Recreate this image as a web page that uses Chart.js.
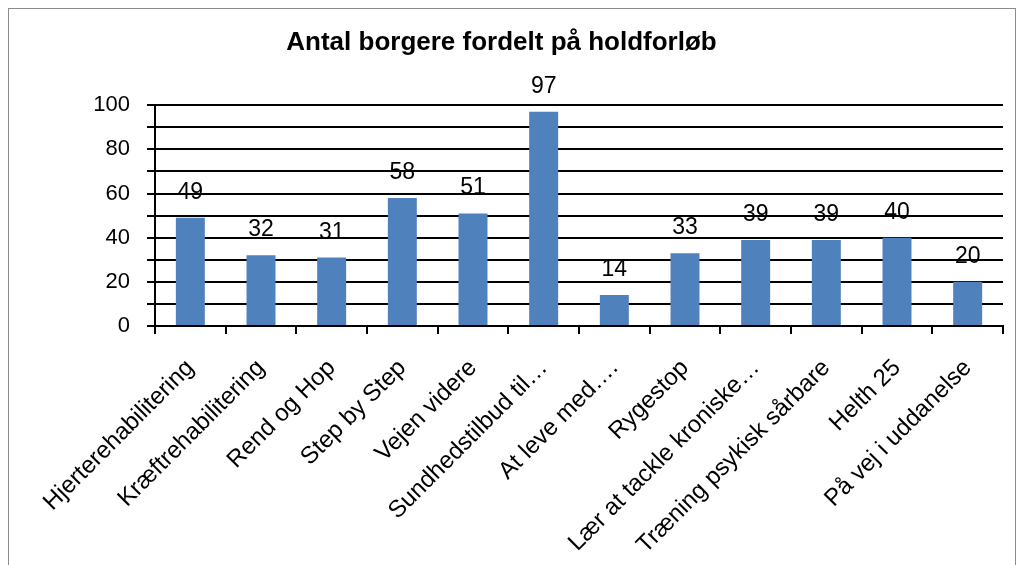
<!DOCTYPE html>
<html lang="da">
<head>
  <meta charset="UTF-8">
  <title>Antal borgere fordelt på holdforløb</title>
  <script src="https://cdn.jsdelivr.net/npm/chart.js"></script>
  <style>
    body { margin: 0; background: #fff; }
    #frame { position: absolute; left: 8px; top: 8px; width: 1006px; height: 600px; border: 1px solid #8c8c8c; }
    canvas { position: absolute; left: 0; top: 0; }
  </style>
</head>
<body>
  <div id="frame"></div>
  <canvas id="chart" width="1023" height="565"></canvas>

  <script>
    const categories = [
      'Hjerterehabilitering', 'Kræftrehabilitering', 'Rend og Hop', 'Step by Step',
      'Vejen videre', 'Sundhedstilbud til…', 'At leve med….', 'Rygestop',
      'Lær at tackle kroniske…', 'Træning psykisk sårbare', 'Helth 25', 'På vej i uddanelse'
    ];
    const borgere = [49, 32, 31, 58, 51, 97, 14, 33, 39, 39, 40, 20];

    const font = 'Liberation Sans, Arial, sans-serif';

    // values above the bars, like the excel data labels
    const valueLabels = {
      id: 'valueLabels',
      afterDatasetsDraw(chart) {
        const ctx = chart.ctx;
        const meta = chart.getDatasetMeta(0);
        ctx.save();
        ctx.font = '23px ' + font;
        ctx.fillStyle = '#000';
        ctx.textAlign = 'center';
        ctx.textBaseline = 'alphabetic';
        meta.data.forEach((bar, i) => {
          ctx.fillText(borgere[i], bar.x, bar.y - 19);
        });
        ctx.restore();
      }
    };

    new Chart(document.getElementById('chart'), {
      type: 'bar',
      data: {
        labels: categories,
        datasets: [{
          data: borgere,
          backgroundColor: '#4F81BD',
          barPercentage: 0.41,
          categoryPercentage: 1
        }]
      },
      options: {
        responsive: false,
        animation: false,
        layout: { padding: { top: 0, right: 20, bottom: 0, left: 0 } },
        plugins: {
          legend: { display: false },
          tooltip: { enabled: false },
          title: {
            display: true,
            text: 'Antal borgere fordelt på holdforløb',
            color: '#000',
            font: { family: font, size: 26, weight: 'bold' },
            padding: { top: 27, bottom: 47 }
          }
        },
        scales: {
          x: {
            grid: { offset: true, drawOnChartArea: false, color: '#000', lineWidth: 2, tickLength: 8 },
            border: { color: '#000', width: 2 },
            ticks: {
              color: '#000',
              font: { family: font, size: 24 },
              minRotation: 45,
              maxRotation: 45,
              padding: 20,
              autoSkip: false
            },
            afterFit(scale) { scale.height = 565 - 326; }
          },
          y: {
            min: 0,
            max: 100,
            grid: { color: '#000', lineWidth: 2, tickLength: 8 },
            border: { color: '#000', width: 2 },
            ticks: {
              stepSize: 10,
              autoSkip: false,
              color: '#000',
              font: { family: font, size: 22 },
              padding: 17,
              callback: v => v % 20 === 0 ? v : ''
            },
            afterFit(scale) { scale.width = 155; }
          }
        }
      },
      plugins: [valueLabels]
    });
  </script>
</body>
</html>
